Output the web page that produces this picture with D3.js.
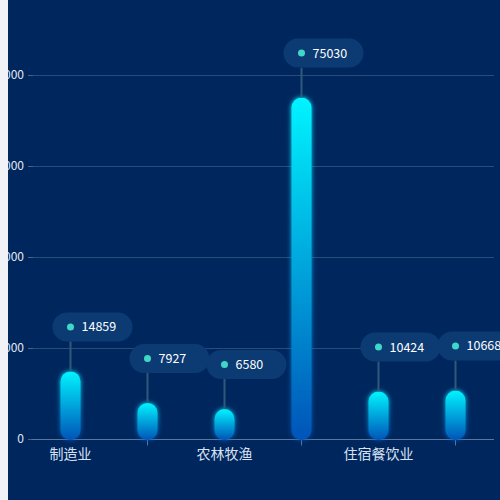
<!DOCTYPE html>
<html><head><meta charset="utf-8">
<script src="https://cdn.jsdelivr.net/npm/d3@7/dist/d3.min.js"></script>
<style>html,body{margin:0;padding:0;background:#00265e;overflow:hidden}</style>
</head><body>
<svg id="c" width="500" height="500"></svg>
<script>
const categories = ["制造业", "批发零售业", "农林牧渔", "信息技术", "住宿餐饮业", "建筑业"];
const values = [14859, 7927, 6580, 75030, 10424, 10668];
const yTicks = [0, 20000, 40000, 60000, 80000];

const svg = d3.select("#c");
const W = 500, H = 500;
const font = "'Noto Sans CJK SC','Microsoft YaHei',sans-serif";

svg.append("rect").attr("width", W).attr("height", H).attr("fill", "#00265e");

const x = d3.scaleBand().domain(categories).range([32, 494]);
const y = d3.scaleLinear().domain([0, 80000]).range([439, 75]);

const defs = svg.append("defs");
const grad = defs.append("linearGradient").attr("id", "bg").attr("x1", 0).attr("y1", 0).attr("x2", 0).attr("y2", 1);
grad.append("stop").attr("offset", "0%").attr("stop-color", "#00f4ff");
grad.append("stop").attr("offset", "100%").attr("stop-color", "#0454b8");
const glow = defs.append("filter").attr("id", "glow").attr("x", "-60%").attr("y", "-20%").attr("width", "220%").attr("height", "140%");
glow.append("feGaussianBlur").attr("in", "SourceGraphic").attr("stdDeviation", 2.5).attr("result", "b");
const m = glow.append("feMerge");
m.append("feMergeNode").attr("in", "b");
m.append("feMergeNode").attr("in", "SourceGraphic");

// grid lines
svg.append("g").selectAll("line").data(yTicks.slice(1)).join("line")
  .attr("x1", 33).attr("x2", 494).attr("y1", d => y(d) + 0.5).attr("y2", d => y(d) + 0.5)
  .attr("stroke", "#2a4c7c").attr("stroke-width", 1);

// y axis
const yAxis = svg.append("g").attr("transform", "translate(33,0)")
  .call(d3.axisLeft(y).tickValues(yTicks).tickSize(5).tickPadding(4).tickFormat(d3.format("d")));
yAxis.select(".domain").remove();
yAxis.selectAll(".tick line").attr("stroke", "#4a6588");
yAxis.selectAll("text").attr("fill", "#e2e8f2").style("font-size", "12px").style("font-family", font);

// x axis
const xAxis = svg.append("g").attr("transform", "translate(0,439.5)")
  .call(d3.axisBottom(x).tickSize(0).tickPadding(10));
xAxis.select(".domain").attr("stroke", "#5d7699").attr("d", "M32,0H494");
xAxis.selectAll("text").attr("fill", "#d8e2f2").style("font-size", "14px").style("font-family", font)
  .style("opacity", (d, i) => i % 2 === 0 ? 1 : 0);
xAxis.selectAll(".tick").filter((d, i) => i % 2 === 1).append("line")
  .attr("y1", 0).attr("y2", 6).attr("stroke", "#5d7699");

const bw = 20;
const cx = d => x(d) + x.bandwidth() / 2;

// bars
svg.append("g").selectAll("rect").data(categories).join("rect")
  .attr("x", d => cx(d) - bw / 2)
  .attr("y", (d, i) => y(values[i]))
  .attr("width", bw)
  .attr("height", (d, i) => y(0) - y(values[i]) + 1)
  .attr("rx", bw / 2).attr("ry", bw / 2)
  .attr("fill", "url(#bg)")
  .attr("filter", "url(#glow)");

// labels
const bh = 29, gap = 30;
const lab = svg.append("g").selectAll("g").data(categories).join("g");
lab.append("line")
  .attr("x1", d => cx(d)).attr("x2", d => cx(d))
  .attr("y1", (d, i) => y(values[i]) - gap).attr("y2", (d, i) => y(values[i]))
  .attr("stroke", "#2e5a7a").attr("stroke-width", 2);
lab.append("rect")
  .attr("x", d => cx(d) - 18).attr("y", (d, i) => y(values[i]) - gap - bh)
  .attr("width", 80).attr("height", bh).attr("rx", bh / 2)
  .attr("fill", "#0c3a73");
lab.append("circle")
  .attr("cx", d => cx(d)).attr("cy", (d, i) => y(values[i]) - gap - bh / 2)
  .attr("r", 3.5).attr("fill", "#3fd8c8");
lab.append("text")
  .attr("x", d => cx(d) + 11).attr("y", (d, i) => y(values[i]) - gap - bh / 2)
  .attr("dy", "0.36em")
  .attr("fill", "#ffffff").style("font-size", "12.5px").style("font-family", font)
  .text((d, i) => values[i]);

// left white strip
svg.append("rect").attr("x", 0).attr("y", 0).attr("width", 8).attr("height", H).attr("fill", "#f1f2f8");
</script>
</body></html>
